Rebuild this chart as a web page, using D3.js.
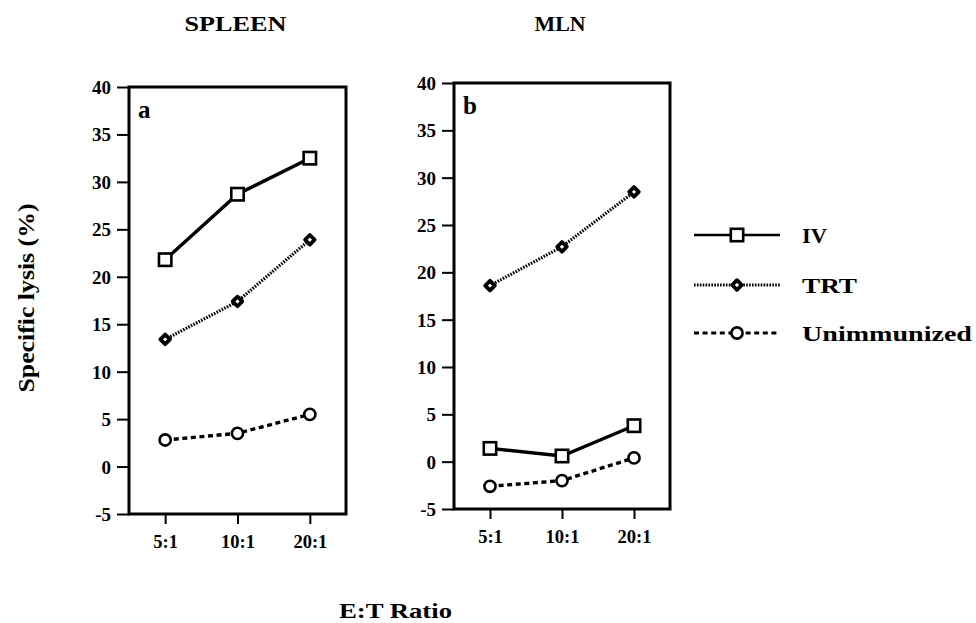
<!DOCTYPE html>
<html>
<head>
<meta charset="utf-8">
<script src="https://cdn.jsdelivr.net/npm/d3@7"></script>
<style>
  html, body { margin: 0; padding: 0; background: #fff; }
  svg { display: block; }
  text { font-family: "Liberation Serif", "Times New Roman", serif; font-weight: bold; fill: #000; }
</style>
</head>
<body>
<svg id="chart" width="976" height="623"></svg>
<script>
// ---- data ----
const categories = ["5:1", "10:1", "20:1"];
const seriesNames = ["IV", "TRT", "Unimmunized"];
const panelTitles = ["SPLEEN", "MLN"];
const panelLetters = ["a", "b"];
const yTickValues = [-5, 0, 5, 10, 15, 20, 25, 30, 35, 40];

const spleenIV = [21.8, 28.7, 32.5];
const spleenTRT = [13.4, 17.4, 23.9];
const spleenUnimmunized = [2.8, 3.5, 5.5];

const mlnIV = [1.4, 0.6, 3.8];
const mlnTRT = [18.6, 22.7, 28.5];
const mlnUnimmunized = [-2.6, -2.0, 0.4];

const yLabel = "Specific lysis (%)";
const xLabel = "E:T Ratio";

// ---- layout / style ----
const panels = [
  { title: panelTitles[0], letter: panelLetters[0], left: 129, right: 346, top: 87, bottom: 514,
    series: [spleenIV, spleenTRT, spleenUnimmunized] },
  { title: panelTitles[1], letter: panelLetters[1], left: 454, right: 670, top: 83, bottom: 509,
    series: [mlnIV, mlnTRT, mlnUnimmunized] }
];
const seriesStyle = [
  { dash: null, width: 3.4, marker: "square" },
  { dash: "1.6,1.3", width: 3.2, marker: "diamond" },
  { dash: "5,3.6", width: 3.4, marker: "circle" }
];

const svg = d3.select("#chart");

function styleText(sel, size) {
  sel.style("font-family", '"Liberation Serif", "Times New Roman", serif')
     .style("font-weight", "bold").style("font-size", size + "px").style("fill", "#000");
}

function drawMarker(g, type, cx, cy) {
  if (type === "square") {
    g.append("rect").attr("x", cx - 6.2).attr("y", cy - 6.2).attr("width", 12.4).attr("height", 12.4)
      .attr("fill", "#fff").attr("stroke", "#000").attr("stroke-width", 2.6);
  } else if (type === "diamond") {
    const s = 4.8;
    g.append("path").attr("d", `M${cx},${cy - s}L${cx + s},${cy}L${cx},${cy + s}L${cx - s},${cy}Z`)
      .attr("fill", "#fff").attr("stroke", "#000").attr("stroke-width", 3.8).attr("stroke-linejoin", "round");
  } else {
    g.append("circle").attr("cx", cx).attr("cy", cy).attr("r", 5.6)
      .attr("fill", "#fff").attr("stroke", "#000").attr("stroke-width", 2.6);
  }
}

panels.forEach(p => {
  const y = d3.scaleLinear().domain([-5, 40]).range([p.bottom, p.top]);
  const x = d3.scalePoint().domain(categories).range([p.left, p.right]).padding(0.5);
  const g = svg.append("g");

  // title
  styleText(g.append("text").attr("x", (p.left + p.right) / 2 - 2).attr("y", 31)
    .attr("text-anchor", "middle")
    .attr("textLength", p.title.length * 17).attr("lengthAdjust", "spacingAndGlyphs")
    .text(p.title), 22);

  // y axis
  const ya = g.append("g").attr("transform", `translate(${p.left},0)`)
    .call(d3.axisLeft(y).tickValues(yTickValues).tickSize(12).tickPadding(6).tickFormat(d => String(d)));
  ya.select(".domain").remove();
  ya.selectAll(".tick line").attr("stroke", "#000").attr("stroke-width", 2);
  styleText(ya.selectAll(".tick text").attr("dy", "0.34em"), 19);

  // x axis
  const xa = g.append("g").attr("transform", `translate(0,${p.bottom})`)
    .call(d3.axisBottom(x).tickSize(10));
  xa.select(".domain").remove();
  xa.selectAll(".tick line").attr("stroke", "#000").attr("stroke-width", 2);
  styleText(xa.selectAll(".tick text").attr("y", 34).attr("dy", 0), 18.5);

  // frame
  g.append("rect").attr("x", p.left).attr("y", p.top).attr("width", p.right - p.left).attr("height", p.bottom - p.top)
    .attr("fill", "none").attr("stroke", "#000").attr("stroke-width", 3);

  // panel letter
  styleText(g.append("text").attr("x", p.left + 9).attr("y", p.top + 31).text(p.letter), 25);

  // series
  p.series.forEach((vals, i) => {
    const st = seriesStyle[i];
    const line = d3.line().x((d, j) => x(categories[j])).y(d => y(d));
    g.append("path").datum(vals).attr("d", line).attr("fill", "none").attr("stroke", "#000")
      .attr("stroke-width", st.width).attr("stroke-dasharray", st.dash);
    vals.forEach((v, j) => drawMarker(g, st.marker, x(categories[j]), y(v)));
  });
});

// legend
const legendRows = [235, 285, 333];
const legendTextLen = [25, 55, 170];
seriesNames.forEach((name, i) => {
  const st = seriesStyle[i];
  const g = svg.append("g");
  g.append("line").attr("x1", 694).attr("x2", 780).attr("y1", legendRows[i]).attr("y2", legendRows[i])
    .attr("stroke", "#000").attr("stroke-width", i === 0 ? 2.6 : 3).attr("stroke-dasharray", st.dash);
  drawMarker(g, st.marker, 737, legendRows[i]);
  styleText(g.append("text").attr("x", 802).attr("y", legendRows[i] + 8)
    .attr("textLength", legendTextLen[i]).attr("lengthAdjust", "spacingAndGlyphs").text(name), 22);
});

// axis titles
styleText(svg.append("text").attr("transform", "translate(34,298) rotate(-90)").attr("text-anchor", "middle")
  .attr("textLength", 189).attr("lengthAdjust", "spacingAndGlyphs").text(yLabel), 24);
styleText(svg.append("text").attr("x", 395.5).attr("y", 618).attr("text-anchor", "middle")
  .attr("textLength", 113).attr("lengthAdjust", "spacingAndGlyphs").text(xLabel), 22);
</script>
</body>
</html>
